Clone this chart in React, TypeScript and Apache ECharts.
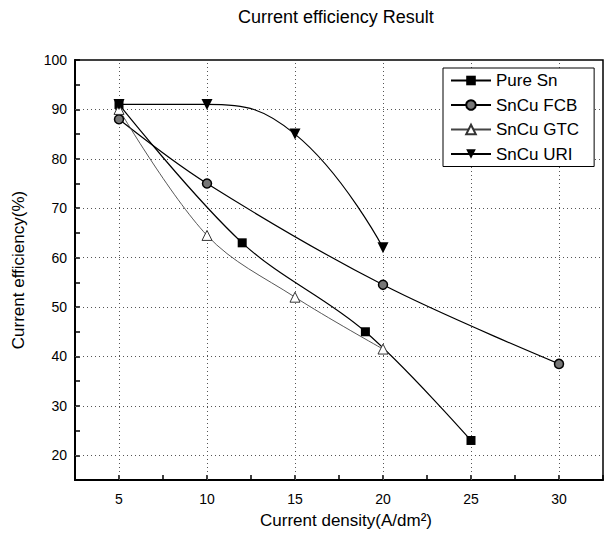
import React, { useEffect, useRef } from "react";
import * as echarts from "echarts";

const seriesNames = ["Pure Sn", "SnCu FCB", "SnCu GTC", "SnCu URI"];
const pureSnX = [5, 12, 19, 25];
const pureSnY = [91, 63, 45, 23];
const fcbX = [5, 10, 20, 30];
const fcbY = [88, 75, 54.5, 38.5];
const gtcX = [5, 10, 15, 20];
const gtcY = [90, 64.5, 52, 41.5];
const uriX = [5, 10, 15, 20];
const uriY = [91, 91, 85, 62];
const xGrid = [5, 10, 15, 20, 25, 30];
const yGrid = [20, 30, 40, 50, 60, 70, 80, 90];

const FONT = "Liberation Sans, Arial, sans-serif";

function pairs(xs: number[], ys: number[]) {
  return xs.map((x, i) => [x, ys[i]]);
}

export default function App() {
  const ref = useRef<HTMLDivElement>(null);
  useEffect(() => {
    if (!ref.current) return;
    const chart = echarts.init(ref.current, undefined, { renderer: "svg" });
    const gridLine = { color: "#555", type: [1, 3] as any, width: 1 };
    chart.setOption({
      animation: false,
      backgroundColor: "#fff",
      textStyle: { fontFamily: FONT, color: "#000" },
      title: {
        text: "Current efficiency Result",
        left: 238,
        top: 8,
        padding: 0,
        textStyle: { fontFamily: FONT, fontSize: 18, fontWeight: "normal", color: "#000" },
      },
      legend: {
        orient: "vertical",
        left: 443,
        top: 68,
        padding: [3, 15, 3, 7],
        itemWidth: 40,
        itemHeight: 12,
        itemGap: 5.5,
        borderColor: "#000",
        borderWidth: 1,
        backgroundColor: "#fff",
        data: seriesNames,
        textStyle: { fontFamily: FONT, fontSize: 17, color: "#000", lineHeight: 19 },
      },
      grid: {
        left: 75,
        top: 60,
        right: 0,
        bottom: 58,
        show: true,
        borderColor: "#000",
        borderWidth: 1.5,
        backgroundColor: "transparent",
      },
      xAxis: {
        type: "value",
        min: 2.5,
        max: 32.5,
        interval: 2.5,
        name: "Current density(A/dm²)",
        nameLocation: "middle",
        nameGap: 32,
        nameTextStyle: { fontFamily: FONT, fontSize: 17, color: "#000", padding: [0, 0, 0, 14] },
        axisLine: { show: true, lineStyle: { color: "#000", width: 2 } },
        axisTick: { show: true, inside: true, length: 5, lineStyle: { color: "#000", width: 1.5 } },
        axisLabel: {
          margin: 12,
          fontFamily: FONT,
          fontSize: 14,
          color: "#000",
          formatter: (v: number) => (v % 5 === 0 ? String(v) : ""),
        },
        splitLine: { show: false },
      },
      yAxis: {
        type: "value",
        min: 15,
        max: 100,
        interval: 5,
        name: "Current efficiency(%)",
        nameLocation: "middle",
        nameGap: 48,
        nameTextStyle: { fontFamily: FONT, fontSize: 17, color: "#000" },
        axisLine: { show: true, lineStyle: { color: "#000", width: 2 } },
        axisTick: { show: true, inside: true, length: 5, lineStyle: { color: "#000", width: 1.5 } },
        axisLabel: {
          margin: 8,
          fontFamily: FONT,
          fontSize: 14,
          color: "#000",
          formatter: (v: number) => (v % 10 === 0 ? String(v) : ""),
        },
        splitLine: { show: false },
      },
      series: [
        {
          name: "Pure Sn",
          type: "line",
          data: pairs(pureSnX, pureSnY),
          smooth: 0.35,
          symbol: "rect",
          symbolSize: 9,
          itemStyle: { color: "#000" },
          lineStyle: { color: "#000", width: 1.2 },
          z: 3,
          markLine: {
            silent: true,
            symbol: ["none", "none"],
            label: { show: false },
            lineStyle: gridLine,
            z: 1,
            data: [
              ...xGrid.map((v) => ({ xAxis: v })),
              ...yGrid.map((v) => ({ yAxis: v })),
            ],
          },
        },
        {
          name: "SnCu FCB",
          type: "line",
          data: pairs(fcbX, fcbY),
          smooth: 0.35,
          symbol: "circle",
          symbolSize: 9,
          itemStyle: { color: "#777", borderColor: "#000", borderWidth: 1.5 },
          lineStyle: { color: "#000", width: 1.2 },
          z: 3,
        },
        {
          name: "SnCu GTC",
          type: "line",
          data: pairs(gtcX, gtcY),
          smooth: 0.35,
          symbol: "triangle",
          symbolSize: 10,
          itemStyle: { color: "#fff", borderColor: "#333", borderWidth: 1 },
          lineStyle: { color: "#444", width: 0.9 },
          z: 3,
        },
        {
          name: "SnCu URI",
          type: "line",
          data: pairs(uriX, uriY),
          smooth: 0.45,
          symbol: "triangle",
          symbolRotate: 180,
          symbolSize: 11,
          itemStyle: { color: "#000" },
          lineStyle: { color: "#000", width: 1.2 },
          z: 3,
        },
      ],
    });
    return () => chart.dispose();
  }, []);
  return (
    <div
      ref={ref}
      style={{ position: "absolute", left: 0, top: 0, width: 606, height: 538 }}
    />
  );
}
